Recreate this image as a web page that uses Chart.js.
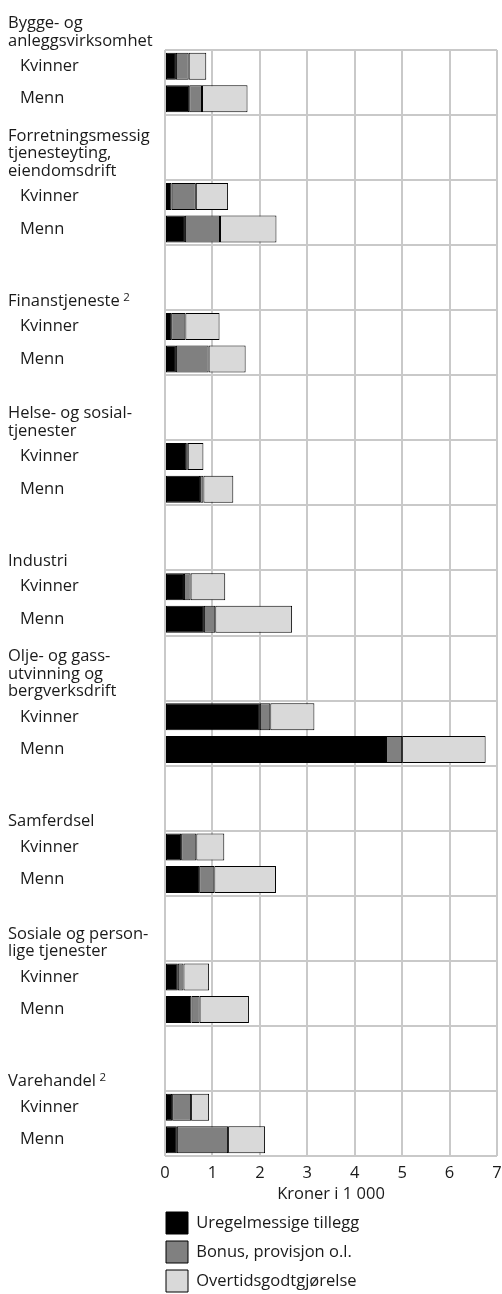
<!DOCTYPE html>
<html lang="no">

<head>
    <meta charset="UTF-8">
    <title>Tillegg etter næring og kjønn</title>
    <script src="https://cdn.jsdelivr.net/npm/chart.js"></script>
    <style>
        html, body {
            margin: 0;
            padding: 0;
            background: #fff;
            overflow: hidden;
        }

        #wrap {
            width: 502px;
            height: 1294px;
            position: relative;
        }
    </style>
</head>

<body>
    <div id="wrap">
        <canvas id="tilleggChart"></canvas>
    </div>

    <script>
        // Næringer (group labels, one entry per line) and their footnote marks
        const groups = [
            ['Bygge- og', 'anleggsvirksomhet'],
            ['Forretningsmessig', 'tjenesteyting,', 'eiendomsdrift'],
            ['Finanstjeneste'],
            ['Helse- og sosial-', 'tjenester'],
            ['Industri'],
            ['Olje- og gass-', 'utvinning og', 'bergverksdrift'],
            ['Samferdsel'],
            ['Sosiale og person-', 'lige tjenester'],
            ['Varehandel']
        ];
        const notes = ['', '', '2', '', '', '', '', '', '2'];
        const sexes = ['Kvinner', 'Menn'];

        // Kroner i 1 000, order: Kvinner, Menn for each group
        const uregelmessige = [0.23, 0.51, 0.14, 0.42, 0.13, 0.23, 0.46, 0.74, 0.40, 0.82,
            2.00, 4.66, 0.34, 0.72, 0.27, 0.56, 0.15, 0.25];
        const bonus = [0.27, 0.27, 0.51, 0.74, 0.30, 0.69, 0.02, 0.07, 0.14, 0.24,
            0.22, 0.34, 0.32, 0.32, 0.12, 0.17, 0.40, 1.08];
        const overtid = [0.37, 0.96, 0.68, 1.19, 0.72, 0.78, 0.33, 0.63, 0.73, 1.62,
            0.93, 1.76, 0.59, 1.30, 0.54, 1.04, 0.38, 0.78];

        const xTicks = [0, 1, 2, 3, 4, 5, 6, 7];

        // rows: Kvinner, Menn, then two empty rows for the next group's label
        const rows = [];
        const rowIndex = [];
        groups.forEach((g, gi) => {
            sexes.forEach(s => { rowIndex.push(rows.length); rows.push(s); });
            if (gi < groups.length - 1) rows.push('', '');
        });

        function spread(values) {
            const out = rows.map(() => null);
            values.forEach((v, i) => { out[rowIndex[i]] = v; });
            return out;
        }

        const FONT = '"Open Sans", sans-serif';
        const TEXT = '#1a1a1a';
        const GRID = '#c9c9c9';

        Chart.defaults.font.family = FONT;
        Chart.defaults.font.size = 16.5;
        Chart.defaults.color = TEXT;

        // group labels sit at the bottom of the empty rows above each Kvinner bar
        const groupLabels = {
            id: 'groupLabels',
            afterDraw(chart) {
                const y = chart.scales.y;
                const ctx = chart.ctx;
                const slot = y.getPixelForValue(1) - y.getPixelForValue(0);
                ctx.save();
                ctx.fillStyle = TEXT;
                ctx.textAlign = 'left';
                ctx.textBaseline = 'alphabetic';
                groups.forEach((lines, gi) => {
                    const edge = y.getPixelForValue(rowIndex[gi * 2]) - slot / 2;
                    const last = edge - 4.5;
                    ctx.font = '16.5px ' + FONT;
                    lines.forEach((t, li) => {
                        ctx.fillText(t, 8, last - (lines.length - 1 - li) * 17.5);
                    });
                    if (notes[gi]) {
                        const w = ctx.measureText(lines[lines.length - 1]).width;
                        ctx.font = '11.5px ' + FONT;
                        ctx.fillText(notes[gi], 8 + w + 3.5, last - 5);
                    }
                });
                ctx.restore();
            }
        };

        // legend sits under the axis title, aligned with the plot's left edge
        const moveLegend = {
            id: 'moveLegend',
            afterLayout(chart) {
                const lg = chart.legend;
                lg.left = chart.chartArea.left - 6;
                lg.top += 8;
                lg.bottom += 8;
            }
        };

        const seg = (label, color, values) => ({
            label: label,
            data: spread(values),
            backgroundColor: color,
            borderColor: '#000',
            borderWidth: 1,
            borderSkipped: false,
            barPercentage: 0.83,
            categoryPercentage: 1
        });

        new Chart(document.getElementById('tilleggChart'), {
            type: 'bar',
            data: {
                labels: rows,
                datasets: [
                    seg('Uregelmessige tillegg', '#000000', uregelmessige),
                    seg('Bonus, provisjon o.l.', '#808080', bonus),
                    seg('Overtidsgodtgjørelse', '#d9d9d9', overtid)
                ]
            },
            options: {
                indexAxis: 'y',
                responsive: true,
                maintainAspectRatio: false,
                animation: false,
                layout: { padding: { top: 50, left: 20, right: 5, bottom: 0 } },
                scales: {
                    x: {
                        stacked: true,
                        min: 0,
                        max: 7,
                        afterBuildTicks: s => { s.ticks = xTicks.map(v => ({ value: v })); },
                        afterFit: s => {
                            s.height = 41;
                            s.paddingLeft = 0;
                            s.paddingRight = 0;
                        },
                        grid: { color: GRID, lineWidth: 2, drawTicks: false },
                        border: { display: false },
                        ticks: { padding: 7, color: TEXT },
                        title: {
                            display: true,
                            text: 'Kroner i 1 000',
                            color: TEXT,
                            padding: { top: 0, bottom: -7 }
                        }
                    },
                    y: {
                        stacked: true,
                        afterFit: s => { s.width = 145; },
                        grid: {
                            lineWidth: 2,
                            drawTicks: false,
                            color: c => (c.index === undefined || c.index % 2 === 0) ? GRID : 'rgba(0,0,0,0)'
                        },
                        border: { display: false },
                        ticks: { autoSkip: false, crossAlign: 'far', padding: 0, color: TEXT }
                    }
                },
                plugins: {
                    legend: {
                        position: 'bottom',
                        align: 'start',
                        fullSize: false,
                        labels: {
                            boxWidth: 22,
                            boxHeight: 22,
                            padding: 7,
                            color: TEXT,
                            font: { size: 16.5 }
                        }
                    },
                    tooltip: { enabled: false }
                }
            },
            plugins: [groupLabels, moveLegend]
        });
    </script>
</body>

</html>
